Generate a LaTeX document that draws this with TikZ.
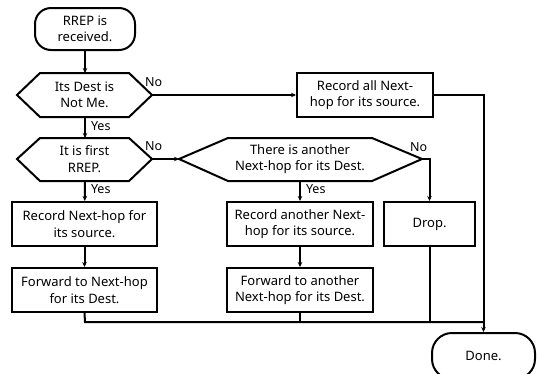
\documentclass[tikz,border=0pt]{standalone}
\usepackage{fontspec}
\setmainfont{Noto Sans}
\usetikzlibrary{arrows.meta}
\begin{document}
\begin{tikzpicture}[x=1pt,y=-1pt,
  line width=2pt,
  every node/.style={font=\fontsize{13}{16.5}\selectfont, inner sep=0pt, align=center},
  box/.style={draw, rectangle, minimum width=#1, minimum height=44pt},
  term/.style={draw, rounded corners=16pt, minimum height=42pt},
  arr/.style={-{Stealth[length=5pt,width=4.5pt]}},
  lbl/.style={font=\fontsize{12.5}{14}\selectfont}
]
\useasboundingbox (0,0) rectangle (538,373);
% start
\node[term, minimum width=100pt] (start) at (85,29) {RREP is\\received.};
% decision 1
\draw (17,95) -- (40,73) -- (129,73) -- (152,95) -- (129,117) -- (40,117) -- cycle;
\node (d1) at (84.5,95) {Its Dest is\\Not Me.};
\coordinate (d1t) at (85,73); \coordinate (d1b) at (85,117); \coordinate (d1r) at (152,95);
% decision 2
\draw (17,159) -- (40,138) -- (129,138) -- (152,159) -- (129,181) -- (40,181) -- cycle;
\node (d2) at (84.5,159) {It is first\\RREP.};
\coordinate (d2t) at (85,138); \coordinate (d2b) at (85,181); \coordinate (d2r) at (152,159);
% decision 3
\draw (179,159) -- (228,138) -- (372,138) -- (422,159) -- (372,181) -- (228,181) -- cycle;
\node (d3) at (300,159) {There is another\\Next-hop for its Dest.};
\coordinate (d3l) at (179,159); \coordinate (d3b) at (300,181); \coordinate (d3r) at (422,159);
% boxes
\node[box=136pt] (recall) at (365,95) {Record all Next-\\hop for its source.};
\node[box=145pt] (rec1) at (84.5,224) {Record Next-hop for\\its source.};
\node[box=145pt] (fwd1) at (84.5,290) {Forward to Next-hop\\for its Dest.};
\node[box=146pt] (rec2) at (300,224) {Record another Next-\\hop for its source.};
\node[box=146pt] (fwd2) at (300,290) {Forward to another\\Next-hop for its Dest.};
\node[box=91pt] (drop) at (429.5,224) {Drop.};
\node[term, rounded corners=20pt, minimum width=103pt, minimum height=46pt] (done) at (483.5,356) {Done.};
% connectors
\draw[arr] (start) -- (d1t);
\draw[arr] (d1b) -- (d2t);
\draw[arr] (d2b) -- (rec1);
\draw[arr] (rec1) -- (fwd1);
\draw[arr] (d1r) -- (recall);
\draw[arr] (d2r) -- (d3l);
\draw[arr] (d3b) -- (rec2);
\draw[arr] (rec2) -- (fwd2);
\draw[arr] (d3r) -| (drop);
\draw[arr] (recall.east) -| (done.north);
\coordinate (j1) at (85,322);
\coordinate (j2) at (483.5,322);
\draw (fwd1.south) -- (j1) -- (j2);
\draw (fwd2.south) |- (j2);
\draw (drop.south) |- (j2);
% labels
\node[lbl, anchor=west] at (144,82) {No};
\node[lbl, anchor=west] at (90,126) {Yes};
\node[lbl, anchor=west] at (144,146) {No};
\node[lbl, anchor=west] at (90,189) {Yes};
\node[lbl, anchor=west] at (409,147) {No};
\node[lbl, anchor=west] at (305,189) {Yes};
\end{tikzpicture}
\end{document}
